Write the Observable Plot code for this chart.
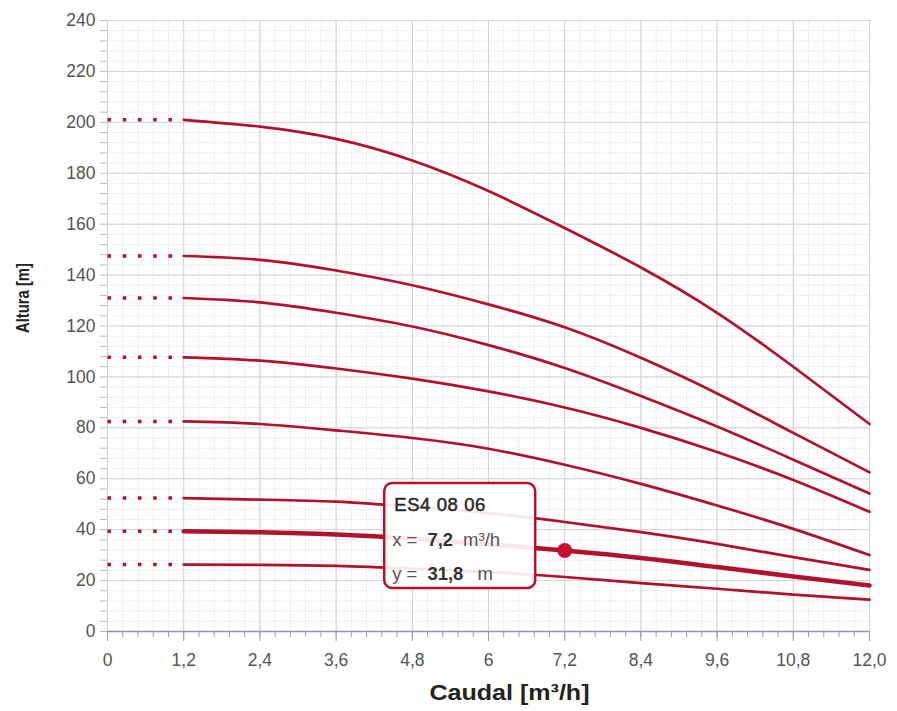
<!DOCTYPE html>
<html><head><meta charset="utf-8">
<script src="https://cdn.jsdelivr.net/npm/d3@7"></script>
<script src="https://cdn.jsdelivr.net/npm/@observablehq/plot@0.6"></script>
<style>
body{margin:0;background:#fff;}
#chart{width:897px;height:711px;}
</style></head><body><div id="chart"></div>
<script>
// ---- data ----
const flows = [1.2, 2.4, 3.6, 4.8, 6, 7.2, 8.4, 9.6, 10.8, 12];
const curveIds = ["c1", "c2", "c3", "c4", "c5", "c6", "ES4 08 06", "c8"];
const h1 = [201, 198.3, 193.5, 185, 173, 158.5, 143, 125.2, 104, 81.5];
const h2 = [147.5, 146, 141.8, 136, 128.5, 119.5, 107.5, 93.5, 78, 62.5];
const h3 = [131, 129.3, 125.2, 119.8, 112.5, 103.5, 92.5, 80.5, 67.5, 54.2];
const h4 = [107.7, 106.4, 103.3, 99.3, 94.3, 88, 80, 70.5, 59.5, 47];
const h5 = [82.5, 81.5, 79, 76, 71.8, 65.5, 58, 49.5, 40.3, 30];
const h6 = [52.4, 51.8, 51, 49, 46.5, 43, 39, 34.4, 29.2, 24.2];
const h7 = [39.4, 39, 38.1, 36.5, 34.3, 31.8, 28.9, 25.3, 21.6, 18.1];
const h8 = [26.3, 26.2, 25.8, 24.7, 23.3, 21.4, 19, 16.8, 14.5, 12.5];
const heads = [h1, h2, h3, h4, h5, h6, h7, h8];
const selectedId = "ES4 08 06";
const selX = 7.2, selY = 31.8;
const selXLabel = "7,2", selYLabel = "31,8";
const xTitle = "Caudal [m³/h]", yTitle = "Altura [m]";

const xTicks = [0, 1.2, 2.4, 3.6, 4.8, 6, 7.2, 8.4, 9.6, 10.8, 12];
const xTickLabels = ["0", "1,2", "2,4", "3,6", "4,8", "6", "7,2", "8,4", "9,6", "10,8", "12,0"];
const yTicks = [0, 20, 40, 60, 80, 100, 120, 140, 160, 180, 200, 220, 240];
const xMinor = d3.range(0, 51).map(i => i * 0.24);
const yMinor = d3.range(0, 61).map(i => i * 4);

// ---- tables built from arrays ----
const rows = [];
curveIds.forEach((id, k) => flows.forEach((q, i) => rows.push({id, q, h: heads[k][i]})));
const startRows = [];
curveIds.forEach((id, k) => { startRows.push({id, q: 0, h: heads[k][0]}); startRows.push({id, q: flows[0], h: heads[k][0]}); });

const RED = "#b0112d";
const FONT = "'Liberation Sans', Arial, sans-serif";

const chart = Plot.plot({
  width: 897, height: 711,
  marginLeft: 107, marginRight: 28, marginTop: 20, marginBottom: 80,
  x: {domain: [0, 12], label: null},
  y: {domain: [0, 240], label: null},
  style: {fontFamily: FONT, background: "transparent"},
  marks: [
    Plot.gridX(xMinor, {stroke: "#e2e2e2", strokeOpacity: 1, strokeDasharray: "1.5,1.5"}),
    Plot.gridY(yMinor, {stroke: "#e2e2e2", strokeOpacity: 1, strokeDasharray: "1.5,1.5"}),
    Plot.gridX(xTicks, {stroke: "#d2d2d2", strokeOpacity: 1}),
    Plot.gridY(yTicks, {stroke: "#d2d2d2", strokeOpacity: 1}),
    Plot.axisY(yMinor, {tickSize: 7, tickFormat: () => "", stroke: "#bdbdbd", label: null}),
    Plot.axisY(yTicks, {tickSize: 0, tickPadding: 12, fontSize: 17.5, fill: "#555", label: null}),
    Plot.axisX(xMinor, {tickSize: 6, tickFormat: () => "", stroke: "#9aa0b0", label: null}),
    Plot.axisX(xTicks, {tickSize: 10, tickPadding: 12, fontSize: 17.5, fill: "#555", stroke: "#9aa0b0", label: null,
      tickFormat: (d) => xTickLabels[xTicks.indexOf(d)]}),
    Plot.ruleY([0], {stroke: "#8f97aa", strokeWidth: 1.5}),
    Plot.line(startRows, {x: "q", y: "h", z: "id", stroke: RED, strokeWidth: 3.5,
      strokeDasharray: "3.5,11.74", strokeLinecap: "butt"}),
    Plot.line(rows.filter(d => d.id !== selectedId), {x: "q", y: "h", z: "id", curve: "natural",
      stroke: RED, strokeWidth: 2.7}),
    Plot.line(rows.filter(d => d.id === selectedId), {x: "q", y: "h", z: "id", curve: "natural",
      stroke: RED, strokeWidth: 4.5}),
    Plot.dot([{q: selX, h: selY}], {x: "q", y: "h", r: 7.5, fill: "#c8102e", stroke: "none"}),
    Plot.text([xTitle], {frameAnchor: "bottom", dx: 21, dy: 61, fontSize: 22.5, fontWeight: "bold", fill: "#222",
      lineAnchor: "middle"})
  ]
});
document.getElementById("chart").appendChild(chart);
const svg = d3.select(chart);

// x-title width as in the reference
svg.selectAll("text").each(function() {
  if (this.textContent === xTitle) d3.select(this).attr("textLength", 160).attr("lengthAdjust", "spacingAndGlyphs");
});

// y-axis title (rotated), condensed like the reference
svg.append("text").attr("transform", "translate(29,298) rotate(-90)")
  .attr("x", -35).attr("y", 0).attr("text-anchor", "start")
  .attr("font-family", FONT).attr("font-weight", "bold").attr("font-size", 18.5).attr("fill", "#222")
  .attr("textLength", 70).attr("lengthAdjust", "spacingAndGlyphs").text(yTitle);

// ---- tooltip, positioned from the plot's own scales ----
const sx = chart.scale("x"), sy = chart.scale("y");
const fx = d3.scaleLinear(sx.domain, sx.range), fy = d3.scaleLinear(sy.domain, sy.range);
const px = fx(selX), py = fy(selY);
const g = svg.append("g").attr("transform", `translate(${px - 180},${py - 67})`)
  .style("font-family", FONT).attr("text-anchor", "start");
g.append("rect").attr("width", 151).attr("height", 105).attr("rx", 8).attr("ry", 8)
  .attr("fill", "#fff").attr("fill-opacity", 0.9).attr("stroke", "#b3112e").attr("stroke-width", 2.5);
g.append("text").attr("x", 10).attr("y", 28).attr("font-size", 18.5).attr("fill", "#2a2a2a")
  .attr("stroke", "#2a2a2a").attr("stroke-width", 0.5).attr("letter-spacing", 0.6).text(selectedId);
const t1 = g.append("text").attr("x", 8).attr("y", 63).attr("font-size", 18.5).attr("fill", "#555");
t1.append("tspan").text("x =");
t1.append("tspan").attr("font-weight", "bold").attr("fill", "#333").attr("dx", 10).text(selXLabel);
t1.append("tspan").attr("dx", 10).text("m³/h");
const t2 = g.append("text").attr("x", 8).attr("y", 97).attr("font-size", 18.5).attr("fill", "#555");
t2.append("tspan").text("y =");
t2.append("tspan").attr("font-weight", "bold").attr("fill", "#333").attr("dx", 10).text(selYLabel);
t2.append("tspan").attr("dx", 14).text("m");
</script></body></html>
